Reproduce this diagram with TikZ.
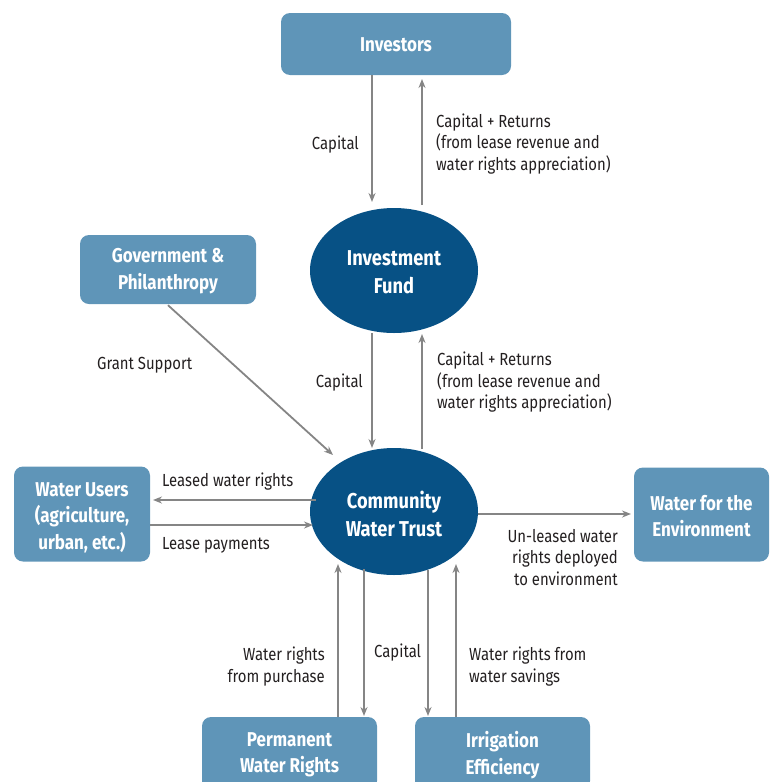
\documentclass[tikz,border=0pt]{standalone}
\usepackage{fontspec}
\setmainfont{Fira Sans}[FakeStretch=0.85]
\usetikzlibrary{arrows.meta,shapes.geometric}
\definecolor{boxblue}{HTML}{5F95B8}
\definecolor{darkblue}{HTML}{075185}
\definecolor{arrowgray}{HTML}{858585}
\definecolor{txt}{HTML}{231F20}
\tikzset{
  box/.style={fill=boxblue, rounded corners=9pt, text=white, font=\fontsize{20}{26.5}\selectfont\bfseries, align=center, inner sep=0pt},
  oval/.style={fill=darkblue, ellipse, text=white, font=\fontsize{21.5}{28}\selectfont\bfseries, align=center, inner sep=0pt},
  flow/.style={draw=arrowgray, line width=1.8pt, -{Stealth[length=9pt,width=7pt]}},
  lbl/.style={font=\fontsize{17.5}{21.5}\selectfont, text=txt, inner sep=0pt},
}
\begin{document}
\begin{tikzpicture}[x=1pt,y=-1pt]
\useasboundingbox (0,0) rectangle (773,782);
% boxes
\node[box, minimum width=230pt, minimum height=62pt] (inv) at (396,44) {};
\node[box, fill=none] (invT) at (396,45) {Investors};
\node[box, minimum width=176pt, minimum height=69pt] (gov) at (168,269.5) {};
\node[box, fill=none] (govT) at (168,271) {Government \&\\Philanthropy};
\node[box, minimum width=136pt, minimum height=95pt] (users) at (82,514) {};
\node[box, fill=none] (usersT) at (82,517.5) {Water Users\\(agriculture,\\urban, etc.)};
\node[box, minimum width=135pt, minimum height=94pt] (env) at (701.5,514.5) {};
\node[box, fill=none] (envT) at (701.5,516) {Water for the\\Environment};
\node[box, minimum width=175pt, minimum height=73pt] (perm) at (289.5,753.5) {};
\node[box, fill=none] (permT) at (289.5,755) {Permanent\\Water Rights};
\node[box, minimum width=175pt, minimum height=73pt] (irr) at (502.5,753.5) {};
\node[box, fill=none] (irrT) at (502.5,755) {Irrigation\\Efficiency};
% ellipses
\node[oval, minimum width=168pt, minimum height=125pt] (fund) at (394,270.5) {};
\node[oval, fill=none] (fundT) at (394,272.5) {Investment\\Fund};
\node[oval, minimum width=168pt, minimum height=127pt] (trust) at (394,511.5) {};
\node[oval, fill=none] (trustT) at (394,513.5) {Community\\Water Trust};
% connectors
\coordinate (a1s) at (372,75); \coordinate (a1e) at (372,202);
\draw[flow] (a1s) -- (a1e);
\coordinate (a2s) at (422,205); \coordinate (a2e) at (422,79);
\draw[flow] (a2s) -- (a2e);
\coordinate (b1s) at (372,333); \coordinate (b1e) at (372,448);
\draw[flow] (b1s) -- (b1e);
\coordinate (b2s) at (422,449); \coordinate (b2e) at (422,334);
\draw[flow] (b2s) -- (b2e);
\coordinate (g1e) at (333,455);
\draw[flow] (gov.south) ++(0,1) -- (g1e);
\coordinate (l1s) at (316,500); \coordinate (l1e) at (153,500);
\draw[flow] (l1s) -- (l1e);
\coordinate (l2s) at (150,525); \coordinate (l2e) at (313,525);
\draw[flow] (l2s) -- (l2e);
\coordinate (e1s) at (478,514); \coordinate (e1e) at (631,514);
\draw[flow] (e1s) -- (e1e);
\coordinate (p1s) at (338,717); \coordinate (p1e) at (338,564);
\draw[flow] (p1s) -- (p1e);
\coordinate (p2s) at (364,569); \coordinate (p2e) at (364,716);
\draw[flow] (p2s) -- (p2e);
\coordinate (i1s) at (428,570); \coordinate (i1e) at (428,716);
\draw[flow] (i1s) -- (i1e);
\coordinate (i2s) at (456,717); \coordinate (i2e) at (456,564);
\draw[flow] (i2s) -- (i2e);
% labels
\node[lbl, anchor=east] (t1) at (359,145) {Capital};
\node[lbl, anchor=west, align=left] (t2) at (436,144) {Capital + Returns\\(from lease revenue and\\water rights appreciation)};
\node[lbl, anchor=west] (t3) at (97,365.5) {Grant Support};
\node[lbl, anchor=east] (t4) at (363,382.5) {Capital};
\node[lbl, anchor=west, align=left] (t5) at (437,382.5) {Capital + Returns\\(from lease revenue and\\water rights appreciation)};
\node[lbl, anchor=west] (t6) at (162,481.5) {Leased water rights};
\node[lbl, anchor=west] (t7) at (162,545.5) {Lease payments};
\node[lbl, anchor=east, align=right] (t8) at (618,557.5) {Un-leased water\\rights deployed\\to environment};
\node[lbl, anchor=east, align=right] (t9) at (325,666.5) {Water rights\\from purchase};
\node[lbl, anchor=west] (t10) at (374,652.5) {Capital};
\node[lbl, anchor=west, align=left] (t11) at (469,666.5) {Water rights from\\water savings};
\end{tikzpicture}
\end{document}
